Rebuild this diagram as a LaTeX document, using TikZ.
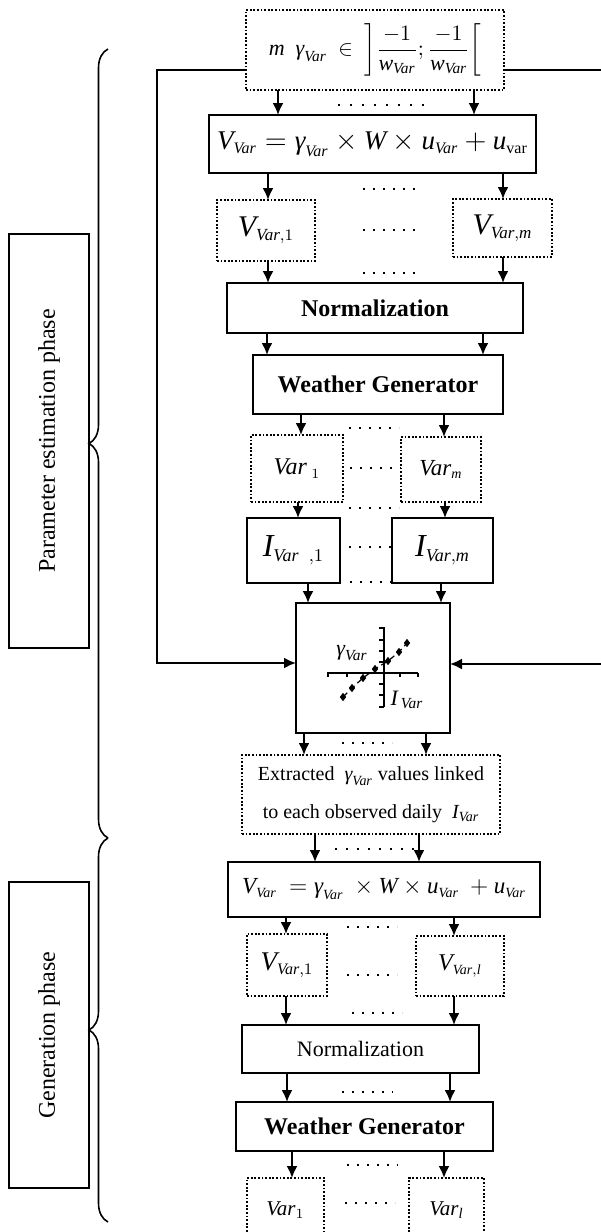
\documentclass[tikz,border=0pt]{standalone}
\usepackage{amsmath}
\usepackage{fontspec}
\setmainfont{Liberation Serif}
\usetikzlibrary{arrows.meta, positioning, decorations.pathreplacing, plotmarks}
\newcommand{\mi}[1]{\textit{#1}}
\DeclareMathSizes{11.5}{11.5}{7}{5}
\DeclareMathSizes{12}{12}{7}{5}
\DeclareMathSizes{13.5}{13.5}{8}{6}
\DeclareMathSizes{15}{15}{8.5}{6}
\DeclareMathSizes{16}{16}{9}{7}

\begin{document}
\begin{tikzpicture}[
  x=0.5pt, y=-0.5pt,
  >={Latex[length=6pt,width=5.5pt]},
  solidbox/.style={
    draw,
    line width=1pt,
    inner sep=0pt,
    outer sep=0pt,
    align=center
  },
  dotbox/.style={
    draw,
    line width=0.6pt,
    dash pattern=on 0.9pt off 0.9pt,
    inner sep=0pt,
    outer sep=0pt,
    align=center
  },
  phase/.style={
    draw,
    line width=0.7pt,
    inner sep=0pt,
    outer sep=0pt,
    rotate=90,
    minimum height=40pt,
    font=\fontsize{12}{14}\selectfont
  },
  arrow/.style={->, line width=1pt},
  dotrow/.style={line width=1pt, dash pattern=on 1pt off #1},
  dotrow/.default=4pt,
  brace/.style={decorate, decoration={brace, amplitude=9.5pt}, line width=0.8pt}
]
\useasboundingbox (0,0) rectangle (600,1232);

% parameter estimation: main column
\node[dotbox, minimum width=129pt, minimum height=40pt, font=\fontsize{11}{13}\selectfont] (top) at (375,50)
  {$\displaystyle \mi{m}\ \ \mi{γ}_{\mi{Var}}\ \in\ \left]\frac{-1}{\mi{w}_{\mi{Var}}};\frac{-1}{\mi{w}_{\mi{Var}}}\right[$};
\node[solidbox, minimum width=163.5pt, minimum height=29pt, below=12.5pt of top, xshift=-1.25pt,
  font=\fontsize{13.5}{16}\selectfont] (form1)
  {$\mi{V}_{\mi{Var}}=\mi{γ}_{\mi{Var}}\times\mi{W}\times\mi{u}_{\mi{Var}}+\mi{u}_{\mathrm{var}}$};
\node[dotbox, minimum width=49pt, minimum height=30.5pt, below=13.5pt of form1, xshift=-53.25pt,
  font=\fontsize{15}{17}\selectfont] (v1) {$\mi{V}_{\mi{Var},1}$};
\node[dotbox, minimum width=49.5pt, minimum height=29pt, below=13pt of form1, xshift=65pt,
  font=\fontsize{15}{17}\selectfont] (vm) {$\mi{V}_{\mi{Var},\mi{m}}$};
\node[solidbox, minimum width=148pt, minimum height=25pt, below=55pt of form1, xshift=1.25pt,
  font=\fontsize{12}{14}\selectfont\bfseries] (norm1) {Normalization};
\node[solidbox, minimum width=125pt, minimum height=29.5pt, below=11pt of norm1, xshift=1.5pt,
  font=\fontsize{12}{14}\selectfont\bfseries] (wg1) {Weather Generator};
\node[dotbox, minimum width=46pt, minimum height=33.5pt, below=10.5pt of wg1, xshift=-40.5pt,
  font=\fontsize{12}{14}\selectfont] (var1) {$\mi{Var}_{\;1}$};
\node[dotbox, minimum width=40pt, minimum height=32.5pt, below=11.5pt of wg1, xshift=31.5pt,
  font=\fontsize{11.5}{13}\selectfont] (varm) {$\mi{Var}_{\mi{m}}$};
\node[solidbox, minimum width=46.5pt, minimum height=32.5pt, below=8pt of var1, xshift=-1.75pt,
  font=\fontsize{16}{18}\selectfont] (i1) {$\mi{I}_{\mi{Var}\;\;,1}$};
\node[solidbox, minimum width=50.5pt, minimum height=32.5pt, below=8pt of varm, xshift=0.75pt,
  font=\fontsize{16}{18}\selectfont] (im) {$\mi{I}_{\mi{Var},\mi{m}}$};
\node[solidbox, minimum width=77pt, minimum height=65pt, below=10pt of i1, xshift=39.75pt] (chart) {};
\node[dotbox, minimum width=129pt, minimum height=39.5pt, below=11pt of chart, xshift=-1pt,
  font=\fontsize{10}{19}\selectfont] (extr)
  {Extracted $\ \mi{γ}_{\mi{Var}}$ values linked\\to each observed daily $\ \mi{I}_{\mi{Var}}$};

% generation: main column
\node[solidbox, minimum width=156pt, minimum height=27.5pt, below=14pt of extr, xshift=6.5pt,
  font=\fontsize{11.5}{14}\selectfont] (form2)
  {$\mi{V}_{\mi{Var}}\ =\mi{γ}_{\mi{Var}}\ \times\mi{W}\times\mi{u}_{\mi{Var}}\ +\mi{u}_{\mi{Var}}$};
\node[dotbox, minimum width=40pt, minimum height=31pt, below=8.5pt of form2, xshift=-48.5pt,
  font=\fontsize{13.5}{16}\selectfont] (gv1) {$\mi{V}_{\mi{Var},1}$};
\node[dotbox, minimum width=44pt, minimum height=30pt, below=9.5pt of form2, xshift=38pt,
  font=\fontsize{12}{14}\selectfont] (gvl) {$\mi{V}_{\mi{Var},\mi{l}}$};
\node[solidbox, minimum width=118.5pt, minimum height=24pt, below=54pt of form2, xshift=-11.75pt,
  font=\fontsize{11}{13}\selectfont] (norm2) {Normalization};
\node[solidbox, minimum width=128.5pt, minimum height=24.5pt, below=14.5pt of norm2, xshift=2pt,
  font=\fontsize{12}{14}\selectfont\bfseries] (wg2) {Weather Generator};
\node[dotbox, minimum width=38.5pt, minimum height=32pt, below=13.5pt of wg2, xshift=-39.5pt,
  font=\fontsize{10.5}{12}\selectfont] (gvar1) {$\mi{Var}_{1}$};
\node[dotbox, minimum width=37.5pt, minimum height=32pt, below=13.5pt of wg2, xshift=41pt,
  font=\fontsize{10.5}{12}\selectfont] (gvarl) {$\mi{Var}_{\mi{l}}$};

% phase labels and braces
\node[phase, minimum width=207pt] (pphase) at (49,441) {Parameter estimation phase};
\node[phase, minimum width=153pt] (gphase) at (49,1035) {Generation phase};
\draw[brace] (108,838) -- (108,49);
\draw[brace] (108,1222) -- (108,838);

% scatter sketch inside the chart box
\draw[line width=0.8pt] (384,627) -- (384,707) (327,673) -- (418,673);
\draw[line width=0.6pt] (379,628) -- (384,628) (379,640) -- (384,640) (379,651) -- (384,651)
  (379,662) -- (384,662) (379,684) -- (384,684) (379,695) -- (384,695) (379,707) -- (384,707)
  (328,673) -- (328,677) (347,673) -- (347,677) (400,673) -- (400,677) (418,673) -- (418,677);
\draw[densely dashed, line width=0.6pt, mark=diamond*, mark size=1.6pt, mark options={solid}]
  plot coordinates {(343,697) (352,688) (363,678) (375,669) (388,661) (399,652) (407,643)};
\node[font=\fontsize{11}{12}\selectfont] (glab) at (352,653) {$\mi{γ}_{\mi{Var}}$};
\node[font=\fontsize{11}{12}\selectfont] (ilab) at (407,700) {$\mi{I}_{\,\mi{Var}}$};

% vertical links
\draw[arrow] (top.south -| 278,0) -- (form1.north -| 278,0);
\draw[arrow] (top.south -| 474,0) -- (form1.north -| 474,0);
\draw[arrow] (form1.south -| 268,0) -- (v1.north -| 268,0);
\draw[arrow] (form1.south -| 503,0) -- (vm.north -| 503,0);
\draw[arrow] (v1.south -| 268,0) -- (norm1.north -| 268,0);
\draw[arrow] (vm.south -| 503,0) -- (norm1.north -| 503,0);
\draw[arrow] (norm1.south -| 267,0) -- (wg1.north -| 267,0);
\draw[arrow] (norm1.south -| 483,0) -- (wg1.north -| 483,0);
\draw[arrow] (wg1.south -| 301,0) -- (var1.north -| 301,0);
\draw[arrow] (wg1.south -| 444,0) -- (varm.north -| 444,0);
\draw[arrow] (var1.south -| 298,0) -- (i1.north -| 298,0);
\draw[arrow] (varm.south -| 445,0) -- (im.north -| 445,0);
\draw[arrow] (i1.south -| 308,0) -- (chart.north -| 308,0);
\draw[arrow] (im.south -| 441,0) -- (chart.north -| 441,0);
\draw[arrow] (chart.south -| 304,0) -- (extr.north -| 304,0);
\draw[arrow] (chart.south -| 426,0) -- (extr.north -| 426,0);
\draw[arrow] (extr.south -| 315,0) -- (form2.north -| 315,0);
\draw[arrow] (extr.south -| 419,0) -- (form2.north -| 419,0);
\draw[arrow] (form2.south -| 286,0) -- (gv1.north -| 286,0);
\draw[arrow] (form2.south -| 454,0) -- (gvl.north -| 454,0);
\draw[arrow] (gv1.south -| 286,0) -- (norm2.north -| 286,0);
\draw[arrow] (gvl.south -| 454,0) -- (norm2.north -| 454,0);
\draw[arrow] (norm2.south -| 287,0) -- (wg2.north -| 287,0);
\draw[arrow] (norm2.south -| 450,0) -- (wg2.north -| 450,0);
\draw[arrow] (wg2.south -| 292,0) -- (gvar1.north -| 292,0);
\draw[arrow] (wg2.south -| 444,0) -- (gvarl.north -| 444,0);

% feedback to the chart
\draw[arrow] ([yshift=-10pt]top.west) -- ++(-89,0) |- ([yshift=2.5pt]chart.west);
\draw[arrow] ([yshift=-10pt]top.east) -- ++(100,0) |- ([yshift=2pt]chart.east);

% dotted ellipsis rows
\draw[dotrow=5pt] (338,105) -- (424,105);
\draw[dotrow] (363,189) -- (415,189);
\draw[dotrow] (363,230) -- (415,230);
\draw[dotrow] (363,273) -- (415,273);
\draw[dotrow] (349,428) -- (399,428);
\draw[dotrow] (350,468) -- (401,468);
\draw[dotrow] (349,508) -- (399,508);
\draw[dotrow] (349,547) -- (392,547);
\draw[dotrow] (350,582) -- (392,582);
\draw[dotrow] (342,743) -- (392,743);
\draw[dotrow=4.5pt] (335,849) -- (415,849);
\draw[dotrow] (347,927) -- (397,927);
\draw[dotrow] (347,975) -- (397,975);
\draw[dotrow] (352,1013) -- (402,1013);
\draw[dotrow] (342,1092) -- (393,1092);
\draw[dotrow] (347,1165) -- (398,1165);
\draw[dotrow] (345,1203) -- (395,1203);

\end{tikzpicture}
\end{document}
